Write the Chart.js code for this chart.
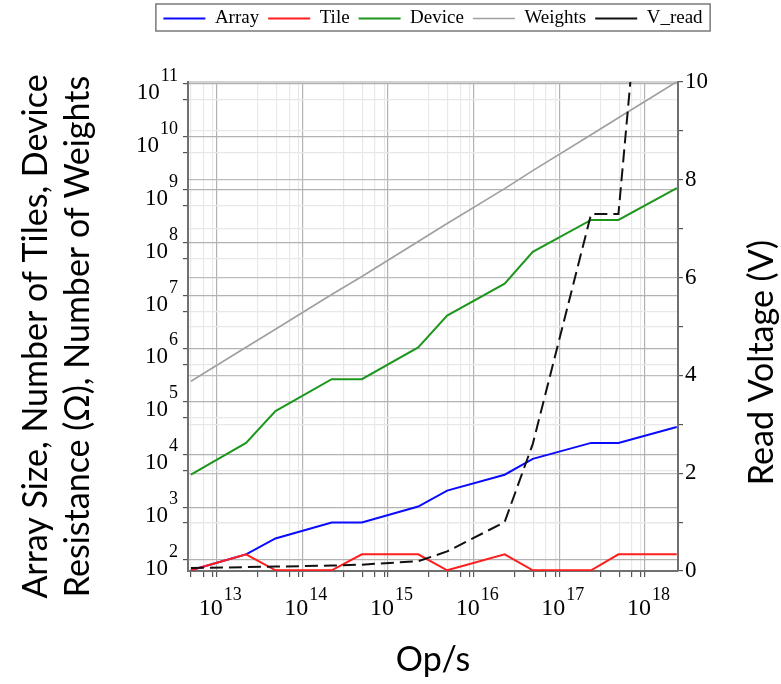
<!DOCTYPE html>
<html lang="en">
<head>
<meta charset="UTF-8">
<title>Array size, tiles, device resistance and read voltage vs Op/s</title>
<style>
    html, body { margin: 0; padding: 0; background: #fff; }
    #wrap { width: 781px; height: 684px; }
</style>
</head>
<body>
<div id="wrap"><canvas id="chart" width="781" height="684"></canvas></div>
<script src="https://cdn.jsdelivr.net/npm/chart.js"></script>
<script>
// values
const opsPerSec = [5.0e12, 2.2e13, 4.85e13, 2.2e14, 4.95e14, 2.25e15, 4.9e15, 2.3e16, 4.9e16, 2.35e17, 4.9e17, 2.35e18];
const arraySize = [64, 128, 256, 512, 512, 1024, 2048, 4096, 8192, 16384, 16384, 32768];
const tiles     = [64, 128, 64, 64, 128, 128, 64, 128, 64, 64, 128, 128];
const deviceRes = [4096, 16384, 65536, 262144, 262144, 1048576, 4194304, 16777216, 67108864, 268435456, 268435456, 1073741824];
const weights   = [2.4e5, 1.05e6, 2.3e6, 1.05e7, 2.3e7, 1.05e8, 2.3e8, 1.05e9, 2.3e9, 1.1e10, 2.3e10, 1.1e11];
const vRead     = [0.06, 0.08, 0.09, 0.11, 0.13, 0.2, 0.4, 1.0, 2.6, 7.3, 7.3, 20.5];

const seriesNames = ['Array', 'Tile', 'Device', 'Weights', 'V_read'];

// axis ticks
const xDecades = [1e12, 1e13, 1e14, 1e15, 1e16, 1e17, 1e18];
const xMinorSteps = [3, 5, 7, 9];
const yDecades = [1e2, 1e3, 1e4, 1e5, 1e6, 1e7, 1e8, 1e9, 1e10, 1e11];
const yMinorSteps = [5];
const vTicks = [0, 1, 2, 3, 4, 5, 6, 7, 8, 9, 10];

const leftTitle = ['Array Size, Number of Tiles, Device', 'Resistance (\u03a9), Number of Weights'];
const rightTitle = 'Read Voltage (V)';
const bottomTitle = 'Op/s';

const xMin = 4.62e12, xMax = 2.43e18;
const yMin = 62, yMax = 1.09e11;

function withMinor(decades, steps, lo, hi) {
    const out = [];
    decades.forEach(d => {
        out.push(d);
        steps.forEach(s => out.push(d * s));
    });
    return out.filter(v => v >= lo && v <= hi).sort((a, b) => a - b);
}
function isDecade(v) {
    const l = Math.log10(v);
    return Math.abs(l - Math.round(l)) < 1e-6;
}
function pts(ys) {
    return opsPerSec.map((x, i) => ({ x: x, y: ys[i] }));
}

const serif = "'Liberation Serif', 'DejaVu Serif', serif";
const sans = "Lato, 'Open Sans', sans-serif";

// "10" with a raised exponent, drawn at the log axis ticks
const powerLabels = {
    id: 'powerLabels',
    afterDraw(chart) {
        const ctx = chart.ctx;
        const area = chart.chartArea;
        const xs = chart.scales.x, ys = chart.scales.y;
        ctx.save();
        ctx.fillStyle = '#000';
        ctx.textBaseline = 'alphabetic';
        xDecades.forEach(v => {
            if (v < xMin || v > xMax) return;
            const px = xs.getPixelForValue(v);
            const e = String(Math.round(Math.log10(v)));
            ctx.font = '24px ' + serif;
            const wb = ctx.measureText('10').width;
            ctx.font = '18px ' + serif;
            const we = ctx.measureText(e).width;
            const x0 = px + 3 - (wb + we) / 2;
            ctx.font = '24px ' + serif;
            ctx.textAlign = 'left';
            ctx.fillText('10', x0, area.bottom + 44);
            ctx.font = '18px ' + serif;
            ctx.fillText(e, x0 + wb + 1, area.bottom + 29);
        });
        yDecades.forEach(v => {
            if (v < yMin || v > yMax) return;
            const py = ys.getPixelForValue(v);
            const e = String(Math.round(Math.log10(v)));
            ctx.font = '18px ' + serif;
            const we = ctx.measureText(e).width;
            const right = area.left - 10;
            ctx.textAlign = 'left';
            ctx.fillText(e, right - we, py - 3);
            ctx.font = '23px ' + serif;
            ctx.textAlign = 'right';
            ctx.fillText('10', right - we - 1, py + 15);
        });
        ctx.restore();
    }
};

const extras = {
    id: 'extras',
    beforeDraw(chart) {
        // legend sits centred over the plot, not the canvas
        const lg = chart.legend;
        const a = chart.chartArea;
        const half = Math.min(a.left + a.right, 2 * chart.width - a.left - a.right) / 2;
        lg.left = (a.left + a.right) / 2 - half;
        lg.right = (a.left + a.right) / 2 + half;
    },
    afterDraw(chart) {
        const ctx = chart.ctx;
        const lg = chart.legend;
        const a = chart.chartArea;
        ctx.save();
        // legend frame
        const w = lg.lineWidths[0];
        const cx = (lg.left + lg.right) / 2;
        ctx.strokeStyle = '#7a7a7a';
        ctx.lineWidth = 1.5;
        ctx.strokeRect(cx - w / 2 - 3, 4, w + 6, 27);
        // axis titles
        ctx.fillStyle = '#000';
        ctx.font = '34px ' + sans;
        ctx.textAlign = 'center';
        ctx.textBaseline = 'middle';
        const midY = (a.top + a.bottom) / 2 + 10;
        leftTitle.forEach((line, i) => {
            ctx.save();
            ctx.translate(36 + i * 42, midY);
            ctx.rotate(-Math.PI / 2);
            ctx.fillText(line, 0, 0);
            ctx.restore();
        });
        ctx.save();
        ctx.translate(762, midY + 26);
        ctx.rotate(-Math.PI / 2);
        ctx.fillText(rightTitle, 0, 0);
        ctx.restore();
        ctx.fillText(bottomTitle, (a.left + a.right) / 2, a.bottom + 89);
        ctx.restore();
    }
};

const ctx = document.getElementById('chart').getContext('2d');
new Chart(ctx, {
    type: 'line',
    data: {
        datasets: [
            { label: seriesNames[0], data: pts(arraySize), borderColor: '#0a0aff', borderWidth: 2, order: 5, yAxisID: 'y' },
            { label: seriesNames[1], data: pts(tiles), borderColor: '#ff1e1e', borderWidth: 2, order: 4, yAxisID: 'y' },
            { label: seriesNames[2], data: pts(deviceRes), borderColor: '#1e961e', borderWidth: 2, order: 3, yAxisID: 'y' },
            { label: seriesNames[3], data: pts(weights), borderColor: '#a0a0a0', borderWidth: 1.7, order: 2, yAxisID: 'y' },
            { label: seriesNames[4], data: pts(vRead), borderColor: '#111', borderWidth: 2, borderDash: [13, 6], order: 1, yAxisID: 'y2' }
        ]
    },
    options: {
        responsive: false,
        animation: false,
        events: [],
        elements: { point: { radius: 0 }, line: { tension: 0 } },
        layout: { padding: 0 },
        plugins: {
            tooltip: { enabled: false },
            legend: {
                position: 'top',
                labels: {
                    usePointStyle: true,
                    pointStyle: 'line',
                    pointStyleWidth: 42,
                    boxHeight: 18,
                    padding: 9,
                    color: '#000',
                    font: { family: serif, size: 19 },
                    sort: (a, b) => a.datasetIndex - b.datasetIndex
                }
            }
        },
        scales: {
            x: {
                type: 'logarithmic',
                position: 'bottom',
                min: xMin,
                max: xMax,
                afterBuildTicks: s => { s.ticks = withMinor(xDecades, xMinorSteps, xMin, xMax).map(v => ({ value: v })); },
                afterFit: s => { s.height = 113; },
                ticks: { display: false },
                grid: {
                    color: c => isDecade(c.tick.value) ? '#b2b2b2' : '#e8e8e8',
                    tickColor: '#555',
                    tickLength: 6,
                    lineWidth: 1.2
                },
                border: { color: '#707070', width: 2 }
            },
            xTop: {
                type: 'linear',
                position: 'top',
                min: 0,
                max: 1,
                afterFit: s => { s.height = Math.max(0, 82 - (s.chart.legend ? s.chart.legend.height : 0)); },
                ticks: { display: false },
                grid: { display: false, drawTicks: false },
                border: { display: true, color: '#d2d2d2', width: 2 }
            },
            y: {
                type: 'logarithmic',
                position: 'left',
                min: yMin,
                max: yMax,
                afterBuildTicks: s => { s.ticks = withMinor(yDecades, yMinorSteps, yMin, yMax).map(v => ({ value: v })); },
                afterFit: s => { s.width = 188; },
                ticks: { display: false },
                grid: {
                    color: c => isDecade(c.tick.value) ? '#b2b2b2' : '#e8e8e8',
                    tickColor: '#555',
                    tickLength: 5,
                    lineWidth: 1.2
                },
                border: { color: '#707070', width: 2 }
            },
            y2: {
                type: 'linear',
                position: 'right',
                min: 0,
                max: 10,
                afterBuildTicks: s => { s.ticks = vTicks.map(v => ({ value: v })); },
                afterFit: s => { s.width = 103; },
                ticks: {
                    color: '#000',
                    font: { family: serif, size: 23 },
                    padding: 2,
                    callback: v => (v % 2 === 0 ? String(v) : '')
                },
                grid: {
                    color: c => (c.tick.value % 2 === 0 ? '#bdbdbd' : '#e8e8e8'),
                    tickColor: '#555',
                    tickLength: 5,
                    lineWidth: 1.2
                },
                border: { color: '#707070', width: 2 }
            }
        }
    },
    plugins: [powerLabels, extras]
});
</script>
</body>
</html>
